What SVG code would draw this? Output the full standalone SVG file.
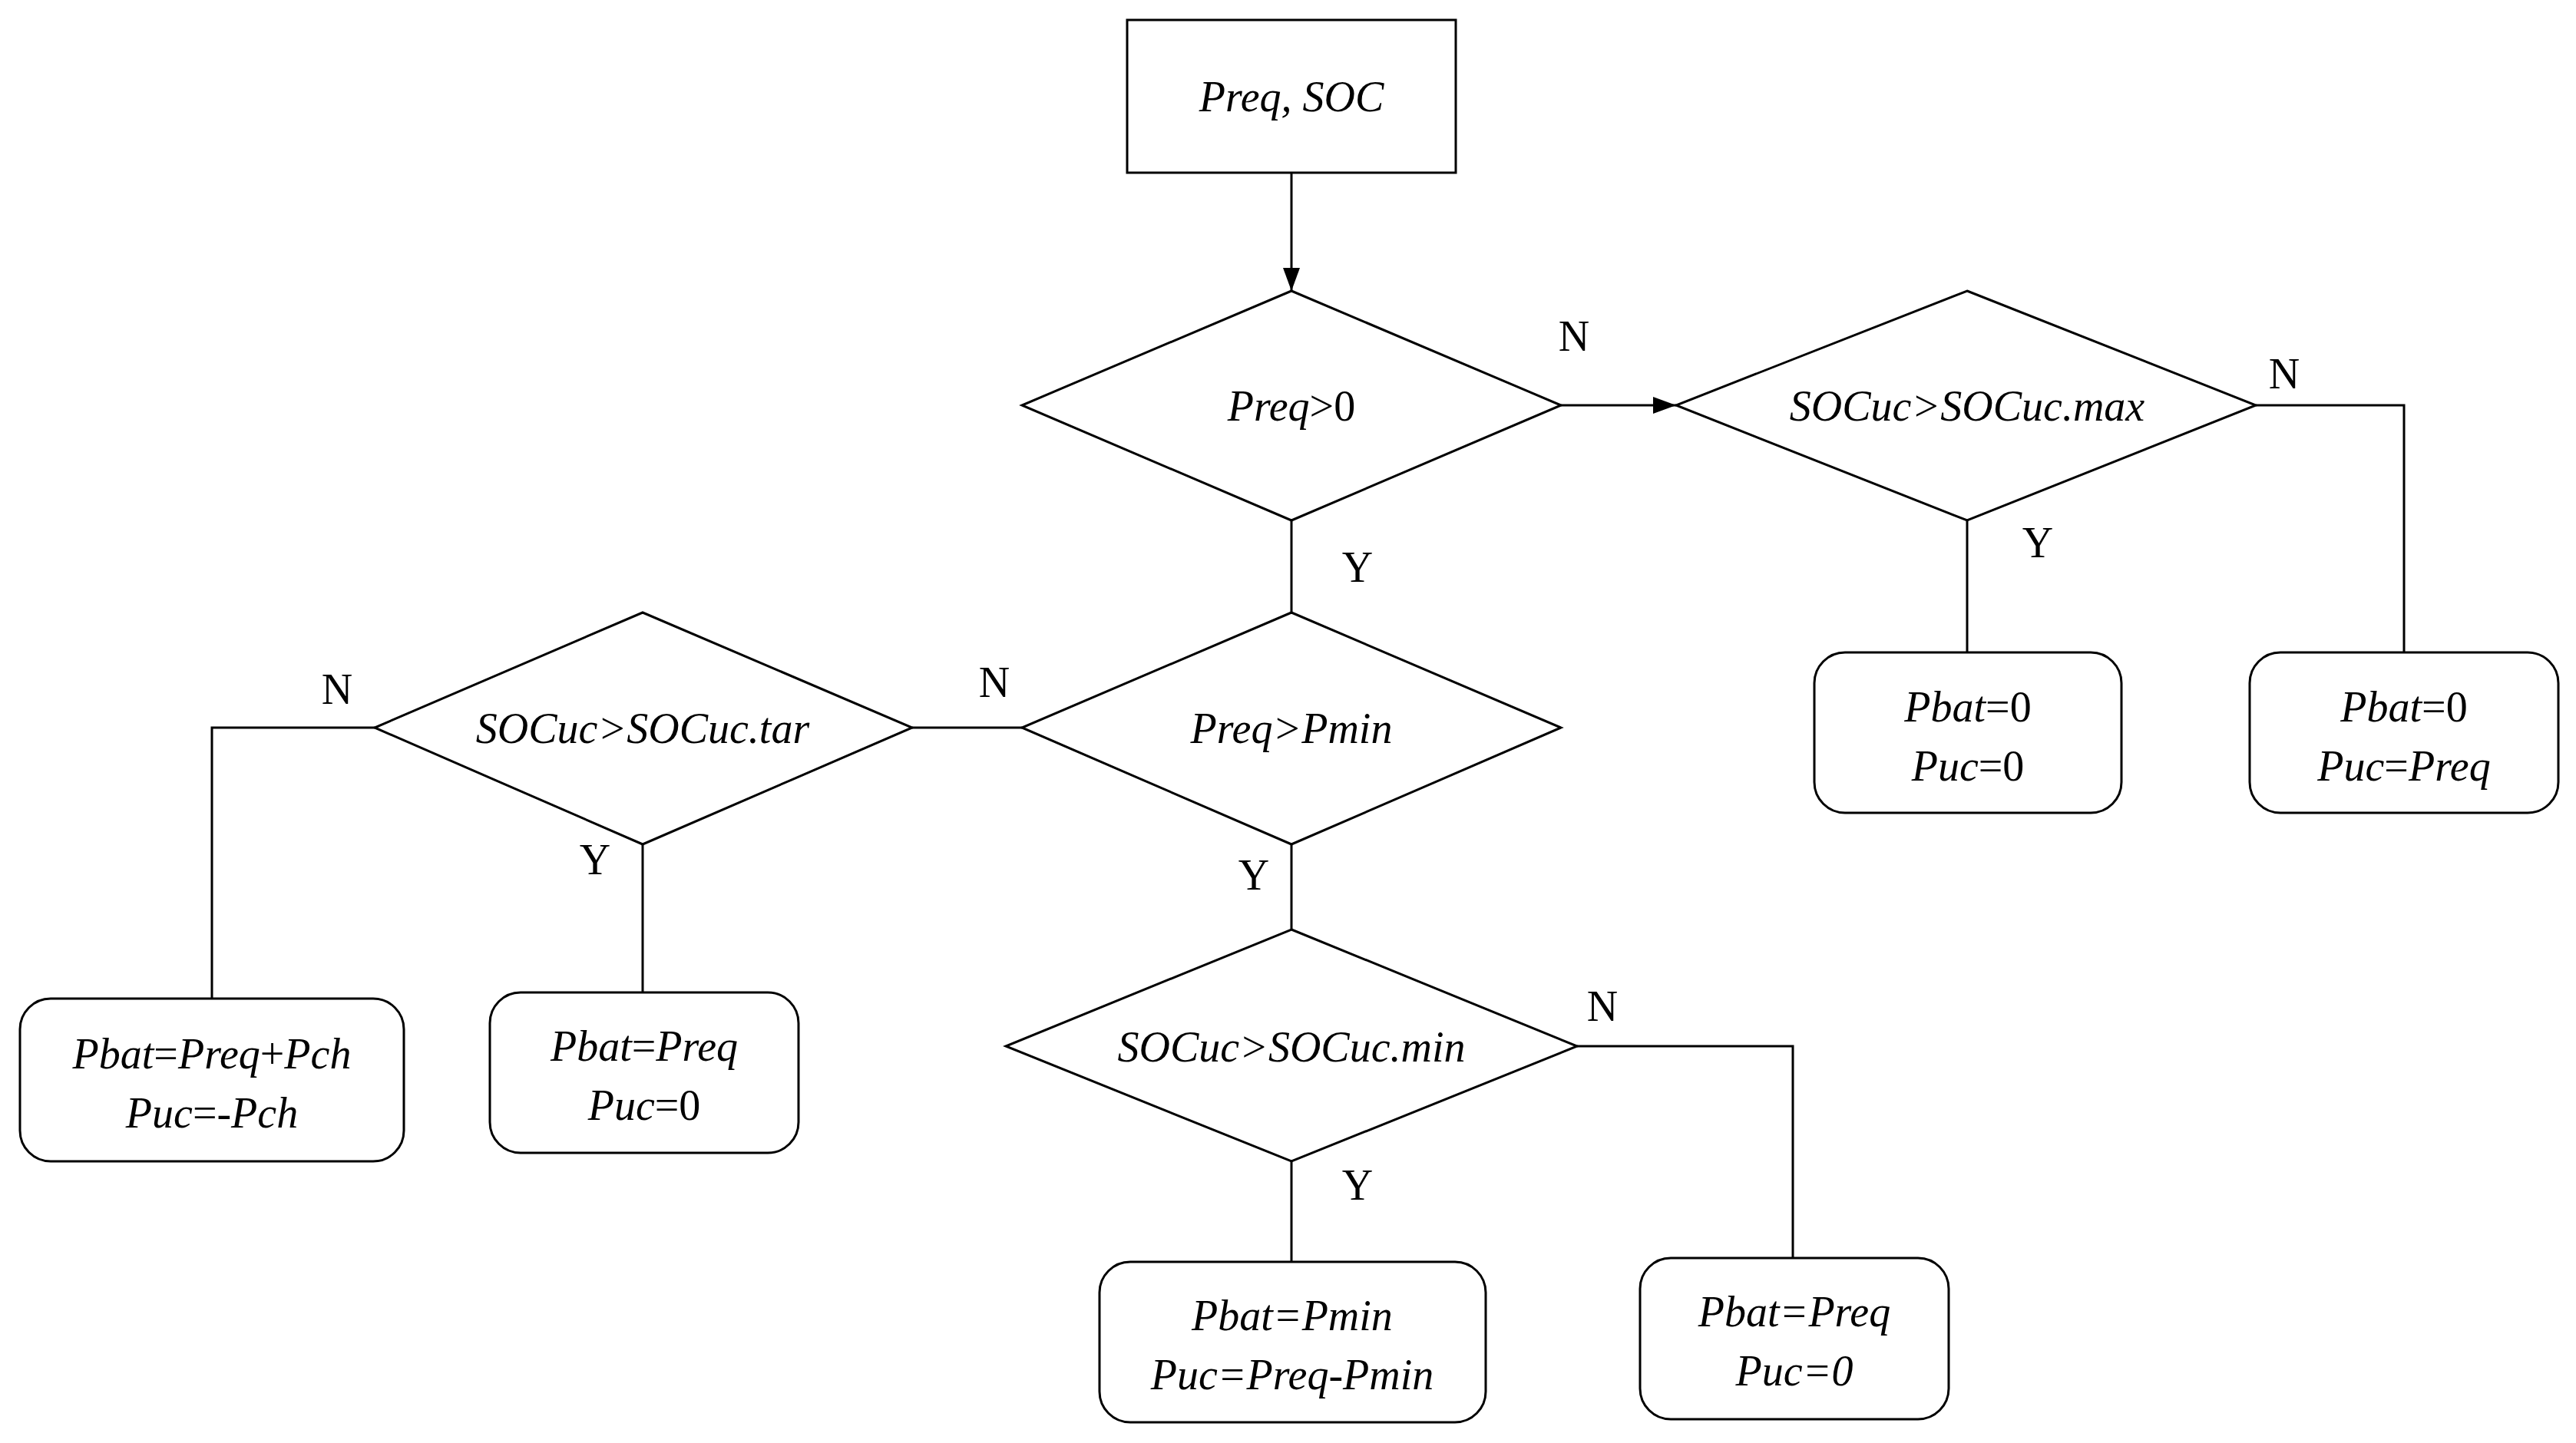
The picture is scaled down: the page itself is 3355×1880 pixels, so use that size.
<svg xmlns="http://www.w3.org/2000/svg" width="3355" height="1880" viewBox="0 0 3355 1880">
<style>
.s{fill:#fff;stroke:#000;stroke-width:3}
.l{fill:none;stroke:#000;stroke-width:3}
text{font-family:"Liberation Serif","Times New Roman",serif;font-size:56px;text-anchor:middle;fill:#000}
.i{font-style:italic}
.u{font-style:normal}
</style>
<defs><marker id="a" markerWidth="12" markerHeight="10" refX="12" refY="5" orient="auto" markerUnits="userSpaceOnUse" viewBox="0 0 12 10"><path d="M0,0L12,5L0,10z" fill="#000"/></marker>
<marker id="b" markerWidth="30" markerHeight="22" refX="30" refY="11" orient="auto" markerUnits="userSpaceOnUse" viewBox="0 0 30 22"><path d="M0,0L30,11L0,22z" fill="#000"/></marker></defs>
<rect width="3355" height="1880" fill="#fff"/>
<g id="connectors">
<path class="l" d="M1682,225V379" marker-end="url(#b)"/>
<path class="l" d="M2033,528H2183" marker-end="url(#b)"/>
<path class="l" d="M2938,528H3131V850"/>
<path class="l" d="M2562,678V850"/>
<path class="l" d="M1682,678V798"/>
<path class="l" d="M1188,948H1331"/>
<path class="l" d="M488,948H276V1301"/>
<path class="l" d="M837,1100V1293"/>
<path class="l" d="M1682,1100V1211"/>
<path class="l" d="M2054,1363H2335V1641"/>
<path class="l" d="M1682,1513V1644"/>
<text x="2050" y="457">N</text>
<text x="2975" y="506">N</text>
<text x="2654" y="726">Y</text>
<text x="1768" y="758">Y</text>
<text x="1295" y="908">N</text>
<text x="439" y="917">N</text>
<text x="775" y="1139">Y</text>
<text x="1633" y="1159">Y</text>
<text x="2087" y="1330">N</text>
<text x="1768" y="1563">Y</text>
</g>
<g id="start"><rect class="s" x="1468" y="26" width="428" height="199"/><text x="1682" y="145" class="i">Preq, SOC</text></g>
<g id="d1"><path class="s" d="M1682,379L2033,528L1682,678L1331,528z"/><text x="1682" y="548"><tspan class="i">Preq</tspan>&gt;0</text></g>
<g id="d2"><path class="s" d="M2562,379L2938,528L2562,678L2183,528z"/><text x="2562" y="548" class="i">SOCuc&gt;SOCuc.max</text></g>
<g id="b1"><rect class="s" x="2363" y="850" width="400" height="209" rx="40"/><text x="2563" y="940"><tspan class="i">Pbat</tspan>=0</text><text x="2563" y="1017"><tspan class="i">Puc</tspan>=0</text></g>
<g id="b2"><rect class="s" x="2930" y="850" width="402" height="209" rx="40"/><text x="3131" y="940"><tspan class="i">Pbat</tspan>=0</text><text x="3131" y="1017"><tspan class="i">Puc</tspan>=<tspan class="i">Preq</tspan></text></g>
<g id="d3"><path class="s" d="M1682,798L2033,948L1682,1100L1331,948z"/><text x="1682" y="968" class="i">Preq&gt;Pmin</text></g>
<g id="d4"><path class="s" d="M837,798L1188,948L837,1100L488,948z"/><text x="837" y="968" class="i">SOCuc&gt;SOCuc.tar</text></g>
<g id="b3"><rect class="s" x="26" y="1301" width="500" height="212" rx="40"/><text x="276" y="1392"><tspan class="i">Pbat</tspan>=<tspan class="i">Preq</tspan>+<tspan class="i">Pch</tspan></text><text x="276" y="1469"><tspan class="i">Puc</tspan>=-<tspan class="i">Pch</tspan></text></g>
<g id="b4"><rect class="s" x="638" y="1293" width="402" height="209" rx="40"/><text x="839" y="1382"><tspan class="i">Pbat</tspan>=<tspan class="i">Preq</tspan></text><text x="839" y="1459"><tspan class="i">Puc</tspan>=0</text></g>
<g id="d5"><path class="s" d="M1682,1211L2054,1363L1682,1513L1310,1363z"/><text x="1682" y="1383" class="i">SOCuc&gt;SOCuc.min</text></g>
<g id="b5"><rect class="s" x="1432" y="1644" width="503" height="209" rx="40"/><text x="1683" y="1733" class="i">Pbat=Pmin</text><text x="1683" y="1810" class="i">Puc=Preq-Pmin</text></g>
<g id="b6"><rect class="s" x="2136" y="1639" width="402" height="210" rx="40"/><text x="2337" y="1728" class="i">Pbat=Preq</text><text x="2337" y="1805" class="i">Puc=0</text></g>
</svg>
